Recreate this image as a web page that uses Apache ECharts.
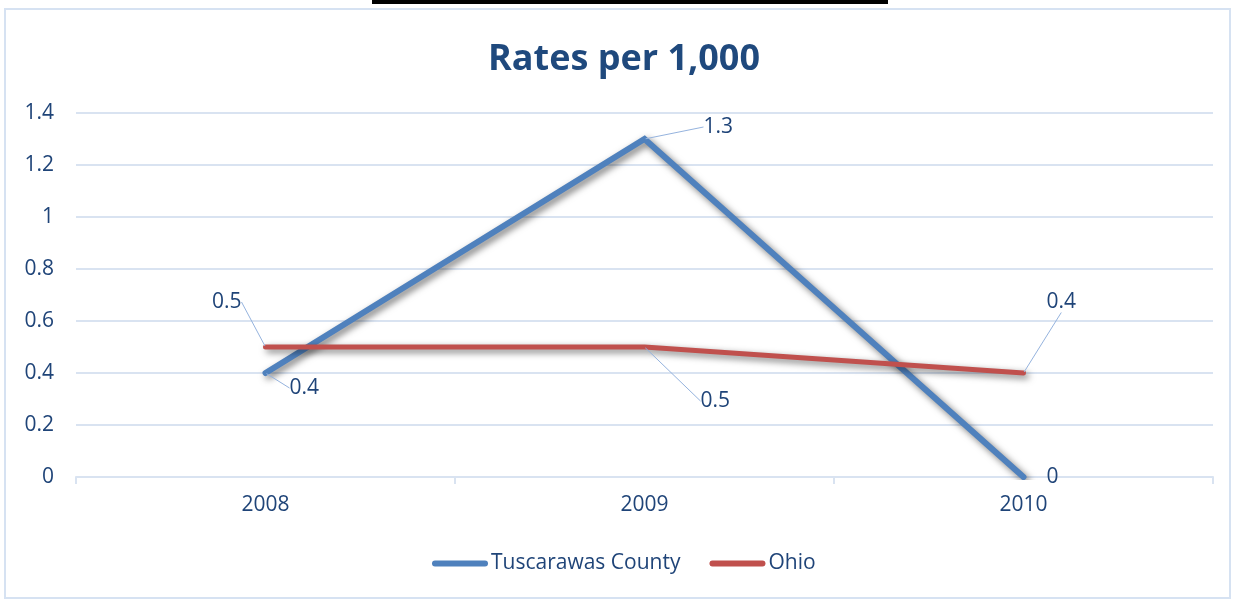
<!DOCTYPE html>
<html>
<head>
<meta charset="utf-8">
<script src="https://cdn.jsdelivr.net/npm/echarts@6/dist/echarts.min.js"></script>
<style>
html,body{margin:0;padding:0;background:#fff;}
#chart{width:1235px;height:601px;}
</style>
</head>
<body>
<div id="chart"></div>
<script>
var title = 'Rates per 1,000';
var categories = ['2008', '2009', '2010'];
var seriesNames = ['Tuscarawas County', 'Ohio'];
var tuscarawas = [0.4, 1.3, 0];
var ohio = [0.5, 0.5, 0.4];
var yTicks = {min: 0, max: 1.4, interval: 0.2};

var textColor = '#1F4478';
var font = '"Open Sans", "Noto Sans", sans-serif';
var gridColor = '#D9E3F1';
var leaderColor = '#95B3DE';

// label offsets (style only)
var tuscOffsets = [[18, 15], [53, -12], [17, 0]];
var ohioOffsets = [[-18, -45], [50, 54], [17, -71]];

var chart = echarts.init(document.getElementById('chart'), null, {renderer: 'canvas'});

function lineSeries(name, data, color, width, pos, offsets, noLine) {
  return {
    name: name,
    type: 'line',
    data: data.map(function (v, i) {
      var item = {value: v, label: {position: pos[i]}};
      if (noLine[i]) item.labelLine = {show: false};
      return item;
    }),
    symbol: 'circle',
    symbolSize: 2,
    itemStyle: {color: color},
    lineStyle: {
      color: color, width: width, cap: 'round', join: 'miter',
      shadowColor: 'rgba(0,0,0,0.55)', shadowBlur: 7, shadowOffsetX: 3, shadowOffsetY: 3
    },
    label: {
      show: true, color: textColor, fontSize: 21, fontFamily: font, distance: 5
    },
    labelLine: {show: true, lineStyle: {color: leaderColor, width: 1}, smooth: false},
    labelLayout: function (params) {
      var o = offsets[params.dataIndex];
      return {dx: o[0], dy: o[1]};
    },
    emphasis: {disabled: true},
    animation: false
  };
}

var option = {
  backgroundColor: '#ffffff',
  animation: false,
  title: {
    text: title, left: 483, top: 37,
    textStyle: {color: '#1F497D', fontSize: 36, fontWeight: 'bold', fontFamily: font}
  },
  grid: {left: 76, right: 22, top: 113, bottom: 124, containLabel: false},
  legend: {
    data: seriesNames, bottom: 22, left: 427,
    itemWidth: 56, itemHeight: 6, itemGap: 29,
    icon: 'path://M3,0 H53 A3,3 0 0 1 53,6 H3 A3,3 0 0 1 3,0 Z',
    textStyle: {color: textColor, fontSize: 21, fontFamily: font, padding: [0, 0, 0, -2]}
  },
  xAxis: {
    type: 'category', data: categories, boundaryGap: true,
    axisLine: {lineStyle: {color: gridColor, width: 2}},
    axisTick: {show: true, length: 7, lineStyle: {color: gridColor, width: 2}},
    axisLabel: {color: textColor, fontSize: 21, fontFamily: font, margin: 18}
  },
  yAxis: {
    type: 'value', min: yTicks.min, max: yTicks.max, interval: yTicks.interval,
    axisLine: {show: false}, axisTick: {show: false},
    splitLine: {lineStyle: {color: gridColor, width: 2}},
    axisLabel: {color: textColor, fontSize: 21, fontFamily: font, margin: 22,
      formatter: function (v) { return String(Math.round(v * 10) / 10); }}
  },
  graphic: [
    {type: 'rect', shape: {x: 5, y: 9, width: 1225, height: 589},
      style: {fill: 'none', stroke: '#D6E2F2', lineWidth: 2}, z: -10, silent: true},
    {type: 'rect', shape: {x: 372, y: 0, width: 516, height: 4},
      style: {fill: '#000000'}, silent: true}
  ],
  series: [
    lineSeries(seriesNames[0], tuscarawas, '#4F81BD', 6, ['right', 'right', 'right'], tuscOffsets, [false, false, true]),
    lineSeries(seriesNames[1], ohio, '#C0504D', 5, ['left', 'right', 'right'], ohioOffsets, [false, false, false])
  ]
};
chart.setOption(option);
</script>
</body>
</html>
